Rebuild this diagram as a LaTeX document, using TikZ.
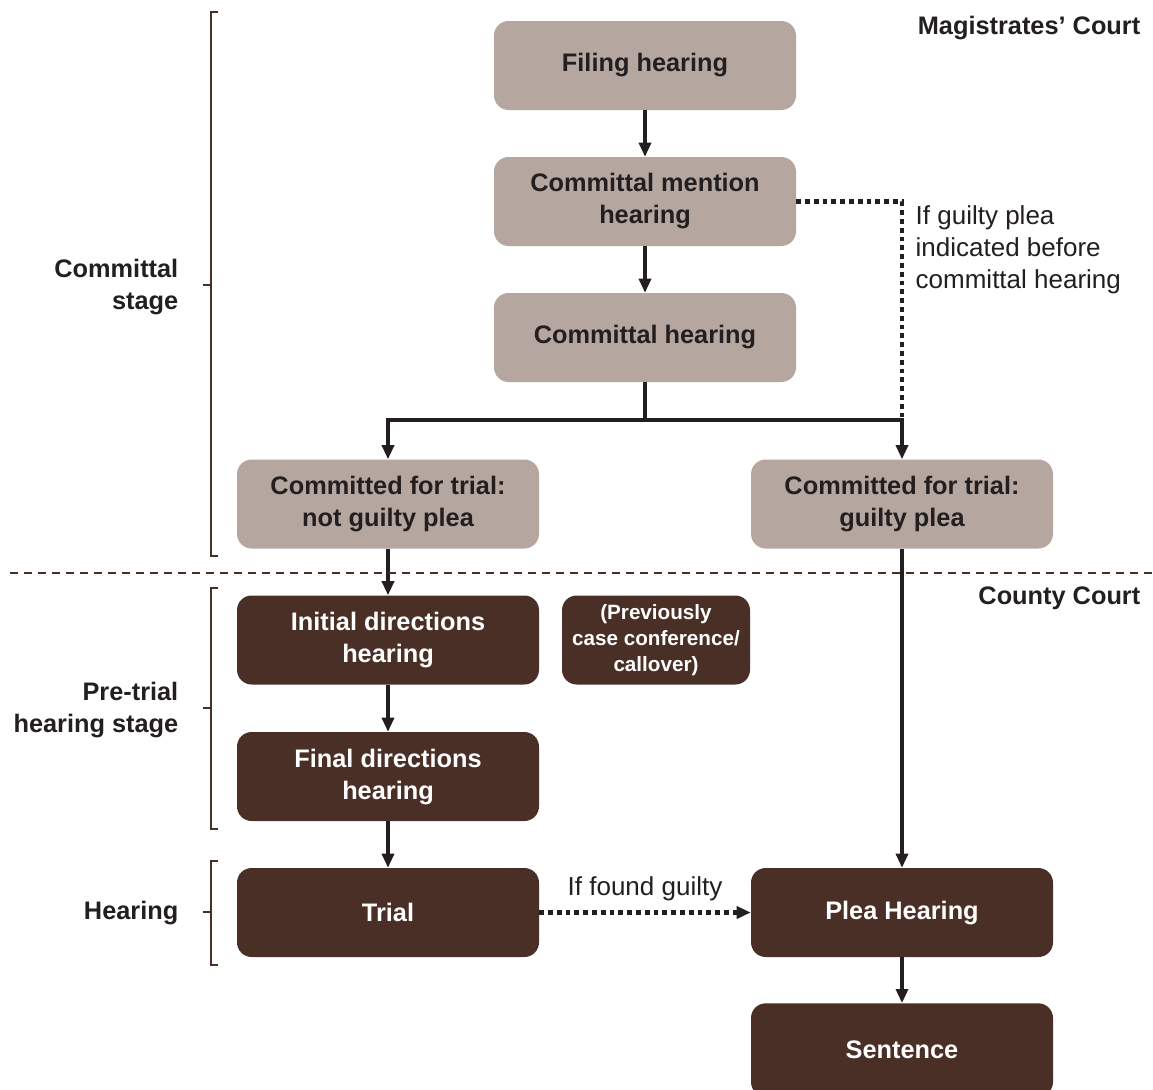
\documentclass[tikz,border=0pt]{standalone}
\usepackage{fontspec}
\setmainfont{Liberation Sans}
\usetikzlibrary{arrows.meta}
\definecolor{lightbox}{HTML}{B5A79F}
\definecolor{darkbox}{HTML}{4A2F26}
\definecolor{ink}{HTML}{231F20}
\tikzset{
  boxbase/.style={rounded corners=11pt, minimum width=226.5pt, minimum height=66.75pt, align=center, inner sep=0pt,
    font=\bfseries\fontsize{19}{24}\selectfont},
  lbox/.style={boxbase, fill=lightbox, text=ink},
  dbox/.style={boxbase, fill=darkbox, text=white},
  conn/.style={draw=ink, line width=2.4pt},
  arr/.style={conn, -{Triangle[length=10.5pt,width=9pt]}},
  dotline/.style={draw=ink, line width=3.2pt, dash pattern=on 3.6pt off 3pt},
  dotarr/.style={dotline, -{Triangle[length=10.5pt,width=9pt]}},
  brk/.style={draw=darkbox, line width=1.8pt},
  stagelbl/.style={align=right, anchor=east, text=ink, font=\bfseries\fontsize{19}{24}\selectfont},
  plainlbl/.style={text=ink, font=\fontsize{19.5}{24}\selectfont},
}
\begin{document}
\begin{tikzpicture}[x=0.75pt,y=-0.75pt]
\useasboundingbox[fill=white] (0,0) rectangle (1153,1089);
\begin{scope}
\clip (0,0) rectangle (1153,1089);
% boxes
\node[lbox] (filing) at (645,65.5) {Filing hearing};
\node[lbox] (mention) at (645,201.5) {Committal mention\\hearing};
\node[lbox] (hear) at (645,337.5) {Committal hearing};
\node[lbox] (ng) at (388,504) {Committed for trial:\\not guilty plea};
\node[lbox] (g) at (902,504) {Committed for trial:\\guilty plea};
\node[dbox] (init) at (388,640) {Initial directions\\hearing};
\node[dbox, minimum width=141pt, font=\bfseries\fontsize{15.5}{19.5}\selectfont] (prev) at (656,640) {(Previously\\case conference/\\callover)};
\node[dbox] (final) at (388,776.5) {Final directions\\hearing};
\node[dbox] (trial) at (388,912.5) {Trial};
\node[dbox] (plea) at (902,912.5) {Plea Hearing};
\node[dbox, minimum height=70pt] (sent) at (902,1050) {Sentence};
\end{scope}
% connectors
\draw[arr] (filing) -- (mention);
\draw[arr] (mention) -- (hear);
\coordinate (j) at (645,420);
\coordinate (jl) at (388,420);
\coordinate (jr) at (902,420);
\draw[conn] (hear.south) -- (j);
\draw[conn, line cap=rect] (jl) -- (jr);
\draw[arr] (jl) -- (ng.north);
\draw[arr] (jr) -- (g.north);
\draw[dotline] (mention.east) -| (jr);
\draw[arr] (ng) -- (init);
\draw[arr] (init) -- (final);
\draw[arr] (final) -- (trial);
\draw[arr] (g) -- (plea);
\draw[arr] (plea) -- (sent);
\draw[dotarr] (trial) -- (plea) node[midway, above=4pt, plainlbl] (fg) {If found guilty};
% annotation
\node[plainlbl, align=left, anchor=north west] (ifg) at (911,201) {If guilty plea\\indicated before\\committal hearing};
% court labels
\node[stagelbl] (mag) at (1145,28) {Magistrates' Court};
\node[stagelbl] (county) at (1145,598) {County Court};
\draw[draw=darkbox, line width=0.9pt, dash pattern=on 6pt off 4.5pt] (10,573) coordinate (sepl) -- (1153,573) coordinate (sepr);
% stage brackets
\draw[brk] (218,12) -- (211,12) -- (211,556) -- (218,556);
\draw[brk] (211,285) -- (203,285);
\node[stagelbl] (cs) at (183,287) {Committal\\stage};
\draw[brk] (218,588) -- (211,588) -- (211,829) -- (218,829);
\draw[brk] (211,708) -- (203,708);
\node[stagelbl] (pts) at (183,710) {Pre-trial\\hearing stage};
\draw[brk] (218,861) -- (211,861) -- (211,965) -- (218,965);
\draw[brk] (211,912) -- (203,912);
\node[stagelbl] (hs) at (183,913) {Hearing};
\end{tikzpicture}
\end{document}
